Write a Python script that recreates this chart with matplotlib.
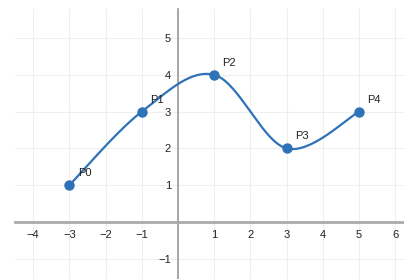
import numpy as np
import matplotlib.pyplot as plt
from matplotlib.ticker import FuncFormatter

plt.rcParams['font.family'] = ['Liberation Sans', 'DejaVu Sans']

names = ['P0', 'P1', 'P2', 'P3', 'P4']
xs = [-3, -1, 1, 3, 5]
ys = [1, 3, 4, 2, 3]

blue = '#2e72b8'


def cardinal(px, py, n=60):
    # catmull-rom style curve through the points (endpoints duplicated)
    P = np.column_stack([px, py]).astype(float)
    P = np.vstack([P[0], P, P[-1]])
    out = []
    t = np.linspace(0, 1, n)[:, None]
    for i in range(1, len(P) - 2):
        p0, p1, p2, p3 = P[i - 1], P[i], P[i + 1], P[i + 2]
        c1 = p1 + (p2 - p0) / 6
        c2 = p2 - (p3 - p1) / 6
        seg = ((1 - t) ** 3 * p1 + 3 * (1 - t) ** 2 * t * c1
               + 3 * (1 - t) * t ** 2 * c2 + t ** 3 * p2)
        out.append(seg)
    out = np.vstack(out)
    return out[:, 0], out[:, 1]


def fmt(v, p):
    if v == 0:
        return ''
    return '\u2212%d' % -v if v < 0 else '%d' % v


fig = plt.figure(figsize=(4.04, 2.79), dpi=100)
ax = fig.add_axes([15 / 404, 0, 1 - 15 / 404, 1 - 9 / 279])
ax.set_xlim(-4.5, 6.24)
ax.set_ylim(-1.55, 5.79)

ax.set_xticks(np.arange(-4, 7))
ax.set_yticks(np.arange(-1, 6))
ax.grid(True, color='#efefef', lw=0.8)
ax.set_axisbelow(True)

for s in ['top', 'right']:
    ax.spines[s].set_visible(False)
ax.spines['left'].set_position(('data', 0))
ax.spines['bottom'].set_position(('data', 0))
ax.spines['left'].set_color('#999999')
ax.spines['bottom'].set_color('#aaaaaa')
ax.spines['left'].set_linewidth(1.2)
ax.spines['bottom'].set_linewidth(2)
ax.tick_params(length=0, labelsize=8, colors='#222222')
ax.tick_params(axis='x', pad=6)
ax.tick_params(axis='y', pad=5)
ax.xaxis.set_major_formatter(FuncFormatter(fmt))
ax.yaxis.set_major_formatter(FuncFormatter(fmt))

cx, cy = cardinal(xs, ys)
ax.plot(cx, cy, color=blue, lw=1.6, zorder=3)
ax.plot(xs, ys, 'o', color=blue, ms=6.5, zorder=4)

for n, x, y in zip(names, xs, ys):
    ax.annotate(n, (x, y), xytext=(6, 5), textcoords='offset points',
                fontsize=8, color='#222222', ha='left', va='bottom', zorder=5)

fig.savefig('out.png', dpi=100)
